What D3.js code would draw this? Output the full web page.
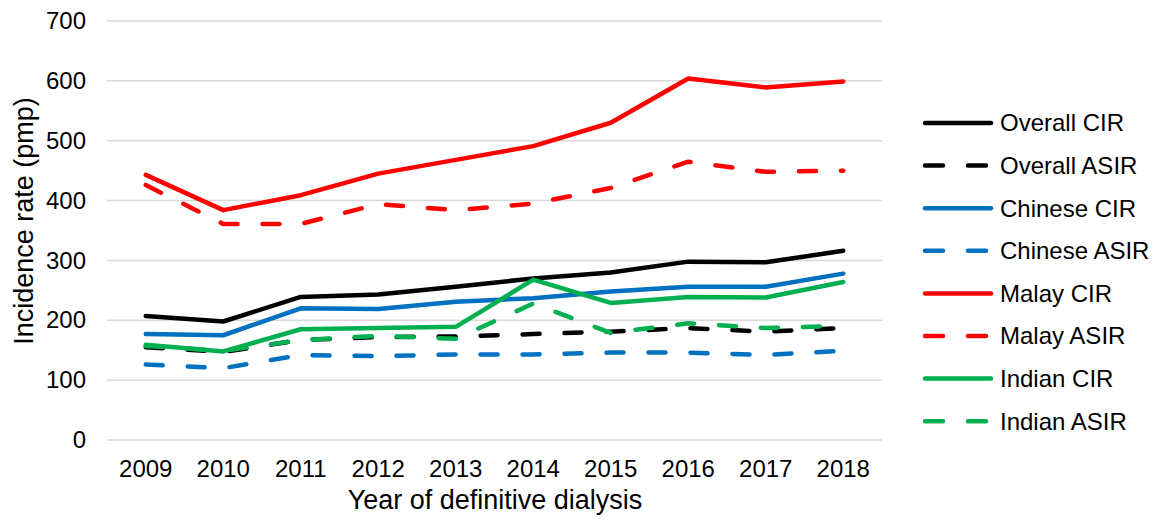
<!DOCTYPE html>
<html>
<head>
<meta charset="utf-8">
<script src="https://cdn.jsdelivr.net/npm/d3@7"></script>
<style>
  body { margin: 0; background: #fff; }
  text { font-family: "Liberation Sans", Arial, sans-serif; fill: #000; }
</style>
</head>
<body>
<svg width="1159" height="523"></svg>
<script>
var years = [2009, 2010, 2011, 2012, 2013, 2014, 2015, 2016, 2017, 2018];
var yTicks = [0, 100, 200, 300, 400, 500, 600, 700];

var overallCIR  = [207, 198, 239, 243, 256, 270, 280, 298, 297, 316];
var overallASIR = [155, 147, 167, 172, 173, 177, 181, 187, 181, 187];
var chineseCIR  = [177, 175, 220, 219, 231, 237, 248, 256, 256, 278];
var chineseASIR = [126, 120, 142, 140, 143, 143, 146, 146, 142, 149];
var malayCIR    = [443, 384, 409, 445, 468, 491, 530, 604, 589, 599];
var malayASIR   = [426, 361, 361, 394, 384, 395, 421, 465, 448, 450];
var indianCIR   = [159, 148, 185, 187, 189, 268, 229, 239, 238, 264];
var indianASIR  = [157, 149, 167, 174, 169, 228, 179, 195, 187, 191];

var seriesNames = ["Overall CIR", "Overall ASIR", "Chinese CIR", "Chinese ASIR",
                   "Malay CIR", "Malay ASIR", "Indian CIR", "Indian ASIR"];
var seriesValues = [overallCIR, overallASIR, chineseCIR, chineseASIR,
                    malayCIR, malayASIR, indianCIR, indianASIR];
var seriesColors = ["#000000", "#000000", "#0070c0", "#0070c0",
                    "#ff0000", "#ff0000", "#00b050", "#00b050"];
var seriesDashed = [false, true, false, true, false, true, false, true];

var svg = d3.select("svg"),
    margin = { top: 21, right: 277, bottom: 83, left: 107 },
    width = +svg.attr("width") - margin.left - margin.right,
    height = +svg.attr("height") - margin.top - margin.bottom;

var x = d3.scaleBand().domain(years).range([0, width]),
    y = d3.scaleLinear().domain([0, 700]).range([height, 0]);

var g = svg.append("g")
    .attr("transform", "translate(" + margin.left + "," + margin.top + ")");

// gridlines
g.selectAll(".grid")
    .data(yTicks)
    .enter().append("line")
    .attr("class", "grid")
    .attr("x1", 0)
    .attr("x2", width)
    .attr("y1", function (d) { return y(d); })
    .attr("y2", function (d) { return y(d); })
    .attr("stroke", "#d9d9d9")
    .attr("stroke-width", 1.5);

// y axis labels
g.append("g")
    .call(d3.axisLeft(y).tickValues(yTicks).tickSize(0).tickPadding(21))
    .call(function (a) { a.select(".domain").remove(); })
    .selectAll("text")
    .style("font-size", "24px")
    .style("font-family", "Liberation Sans, Arial, sans-serif");

// x axis labels
g.append("g")
    .attr("transform", "translate(0," + height + ")")
    .call(d3.axisBottom(x).tickSize(0).tickPadding(20))
    .call(function (a) { a.select(".domain").remove(); })
    .selectAll("text")
    .style("font-size", "24px")
    .style("font-family", "Liberation Sans, Arial, sans-serif");

var line = d3.line()
    .x(function (d, i) { return x(years[i]) + x.bandwidth() / 2; })
    .y(function (d) { return y(d); });

seriesValues.forEach(function (vals, i) {
    g.append("path")
        .datum(vals)
        .attr("d", line)
        .attr("fill", "none")
        .attr("stroke", seriesColors[i])
        .attr("stroke-width", 4.5)
        .attr("stroke-linejoin", "round")
        .attr("stroke-linecap", "round")
        .attr("stroke-dasharray", seriesDashed[i] ? "17,25" : null);
});

// axis titles
svg.append("text")
    .attr("transform", "translate(33,221) rotate(-90)")
    .attr("text-anchor", "middle")
    .style("font-size", "27px")
    .text("Incidence rate (pmp)");

svg.append("text")
    .attr("x", 495)
    .attr("y", 509)
    .attr("text-anchor", "middle")
    .style("font-size", "27px")
    .text("Year of definitive dialysis");

// legend
var legend = svg.append("g").attr("transform", "translate(923,123)");
var item = legend.selectAll(".item")
    .data(seriesNames)
    .enter().append("g")
    .attr("class", "item")
    .attr("transform", function (d, i) { return "translate(0," + (i * 42.6) + ")"; });

item.append("line")
    .attr("x1", 2).attr("x2", 68)
    .attr("y1", 0).attr("y2", 0)
    .attr("stroke", function (d, i) { return seriesColors[i]; })
    .attr("stroke-width", 4.5)
    .attr("stroke-linecap", "round")
    .attr("stroke-dasharray", function (d, i) { return seriesDashed[i] ? "18,25" : null; });

item.append("text")
    .attr("x", 77)
    .attr("y", 0)
    .attr("dy", "0.35em")
    .style("font-size", "24px")
    .text(function (d) { return d; });
</script>
</body>
</html>
